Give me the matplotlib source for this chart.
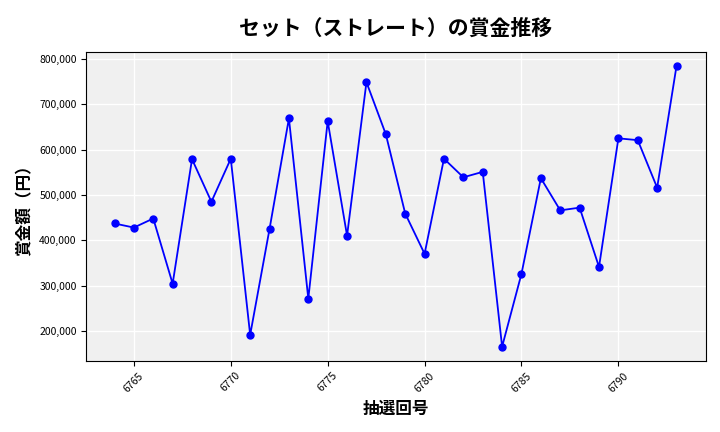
import matplotlib
matplotlib.use("Agg")
import matplotlib.pyplot as plt
from matplotlib.ticker import FuncFormatter

plt.rcParams["font.family"] = ["Noto Sans CJK JP", "DejaVu Sans"]

draws = list(range(6764, 6794))
prizes = [437000, 428000, 448000, 304000, 579000, 485000, 580000, 191000, 425000, 669000,
          271000, 663000, 410000, 749000, 634000, 459000, 370000, 580000, 539000, 551000,
          165000, 326000, 537000, 466000, 472000, 341000, 625000, 621000, 516000, 785000]

fig, ax = plt.subplots(figsize=(7.2, 4.32), dpi=100)
ax.set_facecolor("#f0f0f0")
ax.plot(draws, prizes, color="blue", marker="o", markersize=5, linewidth=1.3)
ax.grid(True, color="white", linewidth=1)
ax.set_axisbelow(True)
ax.set_title("セット（ストレート）の賞金推移", fontsize=15, fontweight="bold", pad=12)
ax.set_xlabel("抽選回号", fontsize=12, fontweight="bold")
ax.set_ylabel("賞金額（円）", fontsize=12, fontweight="bold")
ax.yaxis.set_major_formatter(FuncFormatter(lambda v, p: f"{int(v):,}"))
ax.tick_params(axis="x", labelrotation=45, labelsize=7.5)
ax.tick_params(axis="y", labelsize=7.5)
ax.set_xlim(6762.55, 6794.5)
fig.subplots_adjust(left=0.12, right=0.98, top=0.88, bottom=0.165)
fig.savefig("out.png")
